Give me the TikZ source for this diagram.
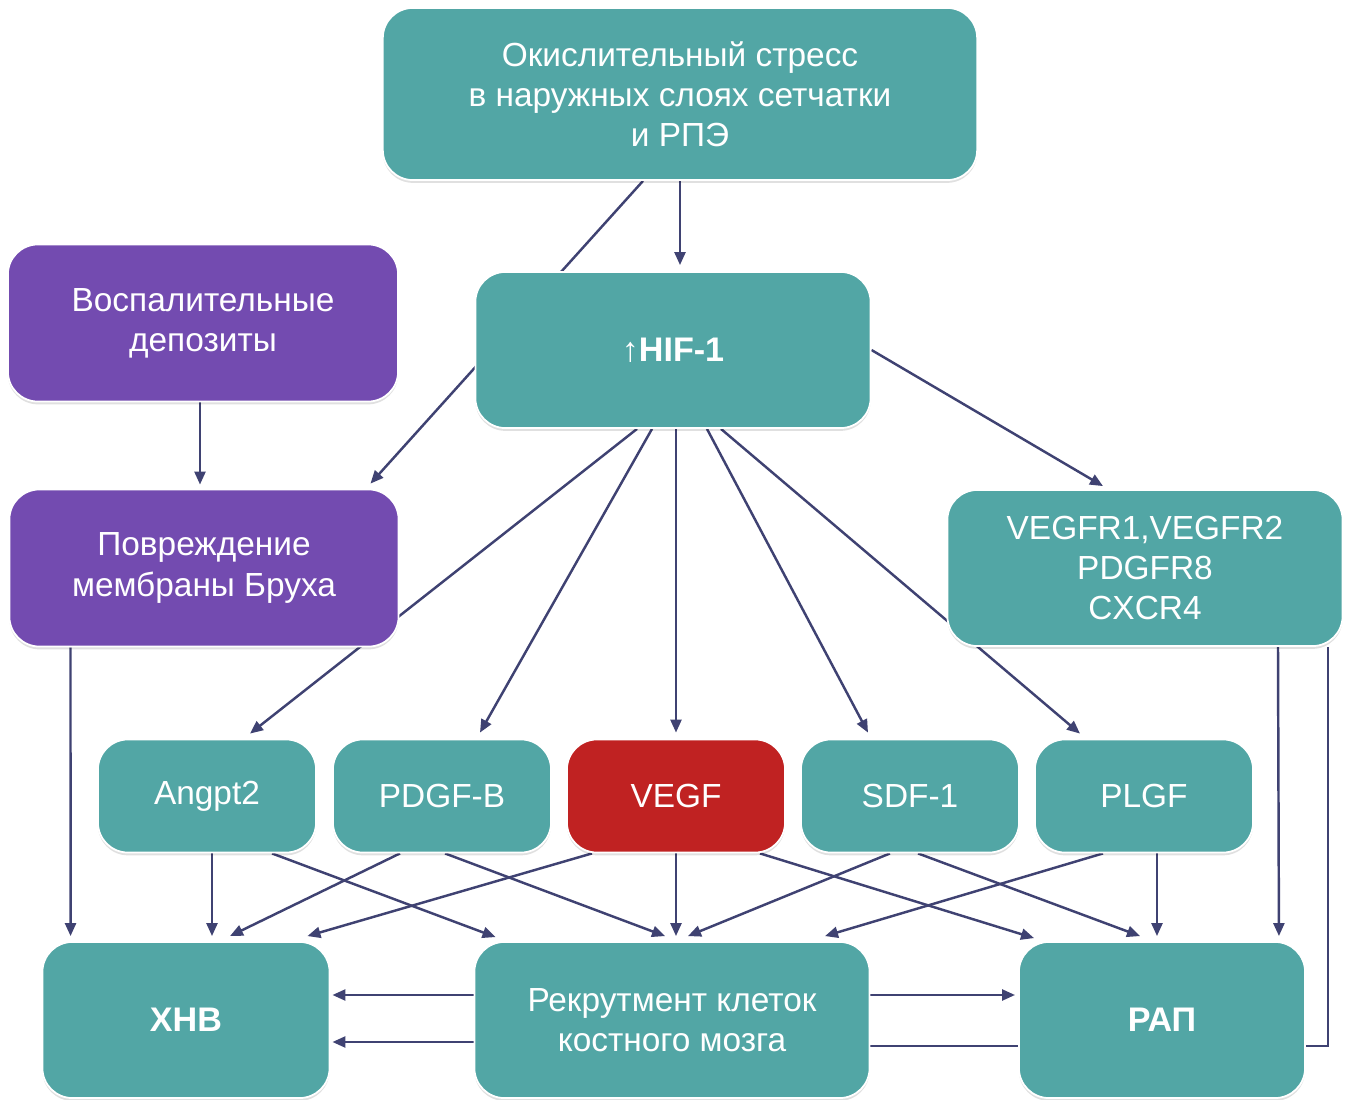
\documentclass[tikz,border=0pt]{standalone}
\usepackage{fontspec}
\setmainfont{Liberation Sans}
\usepackage{tikz}
\usetikzlibrary{calc,arrows.meta,shadows,backgrounds}
\definecolor{tealbox}{HTML}{52A6A5}
\definecolor{purplebox}{HTML}{734BB0}
\definecolor{redbox}{HTML}{C02222}
\definecolor{arrowcol}{HTML}{3F4272}

\begin{document}
\begin{tikzpicture}[x=0.01cm,y=-0.01cm,
    box/.style={rectangle,rounded corners=0.3cm,draw=white,line width=0.5pt,
      text=white,align=center,inner sep=0pt,
      font=\fontsize{9.5}{11.4}\selectfont,
      drop shadow={shadow xshift=0pt,shadow yshift=-0.8pt,opacity=0.12,fill=black}},
    tealb/.style={box,fill=tealbox},
    purpleb/.style={box,fill=purplebox},
    smallb/.style={tealb,minimum width=2.18cm,minimum height=1.13cm},
    bigb/.style={tealb,minimum height=1.56cm,font=\fontsize{9.7}{11.4}\selectfont\bfseries},
    arr/.style={draw=arrowcol,line width=0.7pt,-{Triangle[length=1.3mm,width=1.1mm]}}]
  \useasboundingbox (0,0) rectangle (1350,1100);

  \node[tealb,minimum width=5.94cm,minimum height=1.72cm] (top) at (680,94)
    {Окислительный стресс\\в наружных слоях сетчатки\\и РПЭ};
  \node[purpleb,minimum width=3.90cm,minimum height=1.57cm] (infl) at (203,323)
    {Воспалительные\\депозиты};
  \node[tealb,minimum width=3.95cm,minimum height=1.56cm,
    font=\fontsize{9.7}{11.4}\selectfont\bfseries] (hif) at (673,350) {{\mdseries↑}HIF-1};
  \node[purpleb,minimum width=3.89cm,minimum height=1.57cm] (dmg) at (204,568)
    {Повреждение\\мембраны Бруха};
  \node[tealb,minimum width=3.95cm,minimum height=1.56cm] (vegfr) at (1145,568)
    {VEGFR1,VEGFR2\\PDGFR8\\CXCR4};

  \node[smallb] (angpt) at (207,796) {Angpt2};
  \node[smallb] (pdgf) at (442,796) {PDGF-B};
  \node[smallb,fill=redbox] (vegf) at (676,796) {VEGF};
  \node[smallb] (sdf) at (910,796) {SDF-1};
  \node[smallb] (plgf) at (1144,796) {PLGF};

  \node[bigb,minimum width=2.87cm] (chnv) at (186,1020) {ХНВ};
  \node[tealb,minimum width=3.95cm,minimum height=1.56cm] (recr) at (672,1020)
    {Рекрутмент клеток\\костного мозга};
  \node[bigb,minimum width=2.86cm] (rap) at (1162,1020) {РАП};

  \begin{pgfonlayer}{background}
    \draw[arr] (top.south) -- ($(hif.north)+(7,-6)$);
    \draw[arr] ($(top.south)+(-37,0)$) -- ($(dmg.north east)+(-29,-5)$);
    \draw[arr] ($(infl.south)+(-3,0)$) -- ($(dmg.north)+(-4,-4)$);
    \draw[arr] (hif.east) -- ($(vegfr.north)+(-42,-3)$);
    \draw[arr] ($(hif.south)+(-36,0)$) -- ($(angpt.north)+(43,-5)$);
    \draw[arr] ($(hif.south)+(-21,0)$) -- ($(pdgf.north)+(38,-6)$);
    \draw[arr] (hif.south -| vegf.north) -- ($(vegf.north)+(0,-6)$);
    \draw[arr] ($(hif.south)+(34,0)$) -- ($(sdf.north)+(-42,-6)$);
    \draw[arr] ($(hif.south)+(48,0)$) -- ($(plgf.north)+(-64,-5)$);

    \draw[arr] ($(dmg.south west)+(62,0)$) -- ($(chnv.north west)+(29,-5)$);
    \draw[arr] ($(angpt.south)+(5,0)$) -- ($(chnv.north)+(26,-5)$);
    \draw[arr] ($(angpt.south)+(65,0)$) -- ($(recr.north west)+(22,-4)$);
    \draw[arr] ($(pdgf.south)+(-42,0)$) -- ($(chnv.north)+(44,-5)$);
    \draw[arr] ($(pdgf.south)+(3,0)$) -- ($(recr.north)+(-7,-5)$);
    \draw[arr] ($(vegf.south)+(-84,0)$) -- ($(chnv.north east)+(-23,-5)$);
    \draw[arr] (vegf.south) -- ($(vegf.south |- recr.north)+(0,-5)$);
    \draw[arr] ($(vegf.south)+(84,0)$) -- ($(rap.north west)+(16,-3)$);
    \draw[arr] ($(sdf.south)+(-20,0)$) -- ($(recr.north)+(16,-5)$);
    \draw[arr] ($(sdf.south)+(8,0)$) -- ($(rap.north)+(-22,-5)$);
    \draw[arr] ($(plgf.south)+(-41,0)$) -- ($(recr.north)+(153,-5)$);
    \draw[arr] ($(plgf.south)+(13,0)$) -- ($(rap.north)+(-5,-5)$);
    \draw[arr] ($(vegfr.south)+(133,0)$) -- ($(rap.north east)+(-27,-5)$);
    \draw[draw=arrowcol,line width=0.7pt] ($(vegfr.south)+(183,0)$) |- ($(recr.east)+(0,26)$);

    \draw[arr] ($(recr.west)+(0,-25)$) -- ($(chnv.east)+(2,-25)$);
    \draw[arr] ($(recr.west)+(0,22)$) -- ($(chnv.east)+(2,22)$);
    \draw[arr] ($(recr.east)+(0,-25)$) -- ($(rap.west)+(-3,-25)$);
  \end{pgfonlayer}
\end{tikzpicture}
\end{document}
